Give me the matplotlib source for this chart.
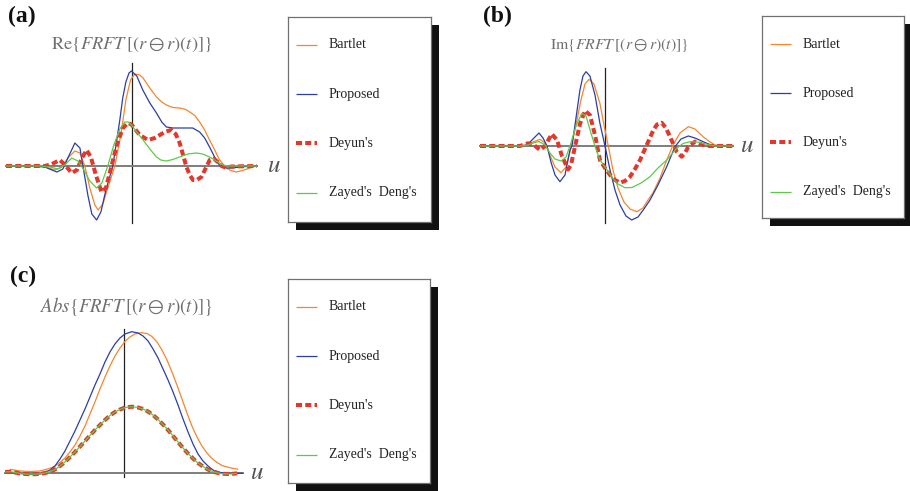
import matplotlib
matplotlib.use("Agg")
import matplotlib.pyplot as plt
from matplotlib.patches import Rectangle

plt.rcParams['font.family'] = ['Liberation Serif', 'DejaVu Serif']
plt.rcParams['mathtext.fontset'] = 'stix'

W, H = 910, 491

# ---- data (u, amplitude) ----
names = ["Bartlet", "Proposed", "Deyun's", "Zayed's  Deng's"]

# (a) real part
re_bartlet_u = [-10, -8.09, -6.9, -6.1, -5.54, -5.07, -4.51, -4.11, -3.72, -3.32, -2.92, -2.66, -2.28, -1.89,
                -1.33, -0.85, -0.45, -0.08, 0.26, 0.66, 0.92, 1.46, 1.99, 2.41, 2.78, 3.29, 3.84, 4.32, 4.64,
                5.04, 5.43, 5.83, 6.22, 6.63, 7.02, 7.56, 7.9, 8.35, 8.85, 9.41, 10]
re_bartlet = [0, 0, -0.01, -0.04, -0.01, 0.08, 0.15, 0.13, 0, -0.22, -0.39, -0.44, -0.38, -0.22,
              0, 0.31, 0.66, 0.86, 0.92, 0.91, 0.88, 0.78, 0.69, 0.64, 0.61, 0.585, 0.58, 0.565, 0.54,
              0.505, 0.44, 0.36, 0.26, 0.16, 0.06, -0.02, -0.045, -0.06, -0.045, -0.02, 0]
re_proposed_u = [-10, -8.89, -7.69, -6.9, -6.34, -5.94, -5.47, -5.07, -4.51, -4.11, -3.87, -3.48, -3.16, -2.78,
                 -2.44, -2.04, -1.49, -0.93, -0.7, -0.45, -0.2, 0, 0.42, 0.9, 1.46, 1.99, 2.41, 2.78, 3.29,
                 4.08, 4.88, 5.43, 5.83, 6.22, 6.54, 6.86, 7.18, 7.56, 8.06, 8.62, 9.17, 10]
re_proposed = [0, 0, 0, -0.01, -0.04, -0.06, -0.03, 0.08, 0.23, 0.18, 0, -0.29, -0.48, -0.54,
               -0.46, -0.24, 0, 0.46, 0.68, 0.84, 0.93, 0.95, 0.9, 0.76, 0.63, 0.53, 0.44, 0.39, 0.38,
               0.38, 0.38, 0.34, 0.28, 0.19, 0.11, 0.03, -0.01, -0.02, -0.02, -0.01, -0.005, 0]
re_deyun_u = [-10, -8.89, -7.69, -6.9, -6.34, -5.7, -5.23, -4.77, -4.35, -3.95, -3.58, -3.24, -2.84, -2.39,
              -2.04, -1.59, -1.17, -0.69, -0.29, 0, 0.34, 0.66, 1.32, 1.85, 2.25, 2.73, 3.18, 3.52, 3.84,
              4.38, 4.64, 4.9, 5.19, 5.57, 5.92, 6.23, 6.55, 6.87, 7.18, 7.5, 7.98, 10]
re_deyun = [0, 0, 0, 0, 0.02, 0.06, 0, -0.07, -0.04, 0.08, 0.16, 0.09, -0.09, -0.26,
            -0.22, 0, 0.21, 0.38, 0.43, 0.415, 0.36, 0.31, 0.26, 0.28, 0.31, 0.345, 0.36, 0.32, 0.23,
            -0.01, -0.09, -0.14, -0.14, -0.11, -0.02, 0.06, 0.075, 0.04, 0, -0.015, -0.005, 0]
re_zayed_u = [-10, -7.29, -6.5, -5.86, -5.31, -4.77, -4.27, -3.79, -3.32, -2.78, -2.36, -1.89, -1.41, -0.93,
              -0.53, -0.27, 0, 0.42, 0.92, 1.46, 1.99, 2.33, 2.78, 3.29, 3.84, 4.48, 5.17, 5.67, 6.22,
              6.63, 7.02, 7.42, 7.82, 10]
re_zayed = [0, 0, -0.01, -0.03, 0.01, 0.08, 0.05, -0.04, -0.15, -0.22, -0.17, 0, 0.21, 0.37,
            0.44, 0.44, 0.41, 0.34, 0.26, 0.17, 0.09, 0.06, 0.05, 0.065, 0.09, 0.12, 0.13, 0.12, 0.09,
            0.06, 0.03, 0.005, 0, 0]

# (b) imaginary part
im_bartlet_u = [-9.88, -6.72, -6.17, -5.69, -5.14, -4.74, -4.35, -3.95, -3.48, -3.08, -2.69, -2.29, -1.9,
                -1.58, -1.26, -0.87, -0.4, -0.08, 0.26, 0.63, 1.03, 1.5, 1.98, 2.51, 3.0, 3.4, 3.79, 4.35,
                4.88, 5.38, 5.93, 6.59, 7.11, 7.75, 8.3, 8.7, 10.12]
im_bartlet = [0, 0, 0.01, 0.04, 0.067, 0.03, -0.09, -0.21, -0.267, -0.21, -0.02, 0.21, 0.46,
              0.62, 0.667, 0.62, 0.427, 0.21, 0, -0.24, -0.42, -0.56, -0.63, -0.657, -0.62, -0.54, -0.47, -0.32,
              -0.14, 0.01, 0.13, 0.193, 0.17, 0.093, 0.04, 0.01, 0]
im_proposed_u = [-9.88, -8.3, -6.72, -6.17, -5.77, -5.22, -4.9, -4.58, -4.27, -3.95, -3.56, -3.16, -2.77,
                 -2.61, -2.37, -1.98, -1.74, -1.5, -1.19, -0.79, -0.4, 0, 0.4, 0.79, 1.19, 1.66, 2.11, 2.61,
                 3.08, 3.56, 4.19, 4.88, 5.53, 6.01, 6.59, 7.11, 7.77, 8.54, 10.12]
im_proposed = [0, 0, 0, 0.01, 0.06, 0.13, 0.08, 0, -0.16, -0.29, -0.357, -0.29, -0.04,
               0, 0.21, 0.56, 0.7, 0.743, 0.7, 0.51, 0.227, 0, -0.24, -0.44, -0.59, -0.7, -0.74, -0.71,
               -0.63, -0.54, -0.39, -0.207, -0.007, 0.07, 0.1, 0.08, 0.043, 0, 0]
im_deyun_u = [-9.88, -8.7, -7.51, -6.72, -6.09, -5.61, -5.14, -4.74, -4.21, -3.79, -3.4, -2.92, -2.69, -2.29,
              -1.98, -1.58, -1.19, -0.79, -0.4, 0, 0.4, 0.79, 1.19, 1.58, 1.98, 2.37, 2.77, 3.3, 3.83,
              4.11, 4.48, 4.82, 5.14, 5.67, 6.06, 6.32, 6.59, 7.11, 7.77, 8.3, 10.12]
im_deyun = [0, 0, 0, 0, 0.027, 0.01, -0.04, 0, 0.12, 0.06, -0.1, -0.235, -0.19, 0.04,
            0.22, 0.353, 0.31, 0.11, -0.14, -0.22, -0.29, -0.34, -0.367, -0.35, -0.307, -0.23, -0.14, 0.01, 0.16,
            0.215, 0.233, 0.18, 0.093, -0.057, -0.107, -0.07, -0.007, 0.043, 0.01, 0, 0]
im_zayed_u = [-9.88, -6.72, -6.09, -5.69, -5.22, -4.74, -4.35, -3.95, -3.48, -3.08, -2.69, -2.29, -1.84,
              -1.5, -1.11, -0.79, -0.4, 0, 0.55, 1.03, 1.58, 2.13, 2.85, 3.56, 4.19, 4.88, 5.67, 6.17,
              6.72, 7.27, 7.75, 8.3, 8.7, 10.12]
im_zayed = [0, 0, 0.01, 0.03, 0.045, 0.01, -0.07, -0.13, -0.15, -0.11, 0.03, 0.2, 0.327,
            0.3, 0.13, 0, -0.14, -0.21, -0.31, -0.38, -0.417, -0.415, -0.37, -0.307, -0.22, -0.14, -0.023, 0.025,
            0.043, 0.04, 0.027, 0.01, 0, 0]

# (c) magnitude
abs_bartlet_u = [-9.58, -8.74, -7.9, -7.06, -6.22, -5.8, -5.38, -4.96, -4.54, -4.12, -3.7, -3.28, -2.86,
                 -2.44, -2.02, -1.6, -1.18, -0.76, -0.34, 0.08, 0.5, 0.92, 1.43, 1.93, 2.35, 2.77, 3.19, 3.61,
                 4.03, 4.45, 4.87, 5.29, 5.71, 6.13, 6.55, 6.97, 7.39, 7.82, 8.24, 8.66, 9.08, 9.6]
abs_bartlet = [0.04, 0.023, 0.018, 0.023, 0.05, 0.073, 0.108, 0.153, 0.213, 0.283, 0.373, 0.473, 0.593,
               0.713, 0.843, 0.963, 1.073, 1.173, 1.253, 1.318, 1.363, 1.393, 1.406, 1.398, 1.368, 1.313,
               1.233, 1.133, 1.013, 0.883, 0.743, 0.603, 0.473, 0.363, 0.273, 0.203, 0.148, 0.108, 0.078,
               0.063, 0.051, 0.04]
abs_proposed_u = [-10, -9.58, -8.74, -7.9, -7.06, -6.64, -6.22, -5.8, -5.38, -4.96, -4.54, -4.12, -3.7, -3.28,
                  -2.86, -2.44, -2.02, -1.6, -1.18, -0.76, -0.34, 0.08, 0.65, 1.18, 1.6, 2.02, 2.44, 2.86,
                  3.28, 3.7, 4.12, 4.54, 4.96, 5.38, 5.8, 6.22, 6.64, 7.06, 7.48, 8.07, 8.74, 10]
abs_proposed = [0.003, 0.008, -0.002, -0.012, -0.007, 0.008, 0.033, 0.073, 0.143, 0.223, 0.323, 0.423,
                0.533, 0.643, 0.763, 0.883, 0.993, 1.113, 1.213, 1.293, 1.353, 1.393, 1.416, 1.403, 1.373,
                1.323, 1.243, 1.153, 1.043, 0.933, 0.813, 0.683, 0.543, 0.413, 0.293, 0.193, 0.123, 0.073,
                0.033, 0.008, 0, 0]
abs_deyun_u = [-10, -9.58, -9.16, -8.74, -8.32, -7.9, -7.48, -7.06, -6.64, -6.22, -5.8, -5.38, -4.96, -4.54,
               -4.12, -3.7, -3.28, -2.86, -2.44, -2.02, -1.6, -1.18, -0.76, -0.34, 0.08, 0.65, 1.18, 1.6,
               2.02, 2.44, 2.86, 3.28, 3.7, 4.12, 4.54, 4.96, 5.38, 5.8, 6.22, 6.64, 7.06, 7.48, 7.9, 8.32,
               8.74, 9.16, 9.5]
abs_deyun = [0.013, 0.016, 0.008, -0.002, -0.007, -0.009, -0.009, -0.005, 0.003, 0.016, 0.038, 0.073,
             0.113, 0.163, 0.213, 0.268, 0.323, 0.378, 0.433, 0.483, 0.533, 0.578, 0.613, 0.638, 0.658,
             0.666, 0.658, 0.643, 0.618, 0.583, 0.538, 0.488, 0.433, 0.373, 0.313, 0.253, 0.198, 0.148,
             0.103, 0.068, 0.038, 0.016, 0.003, -0.005, -0.007, -0.005, 0]
abs_zayed_u = list(abs_deyun_u)
abs_zayed = list(abs_deyun)

ORANGE = '#f5862c'
BLUE = '#2b3ea6'
RED = '#e3372b'
GREEN = '#5dc94b'
styles = [dict(color=ORANGE, lw=0.9),
          dict(color=BLUE, lw=0.9),
          dict(color=RED, lw=2.9, dashes=(1.5, 0.8)),
          dict(color=GREEN, lw=0.9)]

TITLE_C = '#6f6f6f'


def box(x0, y0, x1, y1):
    return [x0 / W, 1 - y1 / H, (x1 - x0) / W, (y1 - y0) / H]


fig = plt.figure(figsize=(W / 100, H / 100), dpi=100)


def panel(rect, xlim, ylim, vb, curves, title, tpos, tsize, label, lpos, uoff):
    ax = fig.add_axes(box(*rect))
    for (u, v), st in zip(curves, styles):
        ax.plot(u, v, solid_capstyle='butt', solid_joinstyle='round', **st)
    ax.set_xlim(*xlim)
    ax.set_ylim(*ylim)
    ax.patch.set_visible(False)
    for s in ['top', 'right']:
        ax.spines[s].set_visible(False)
    ax.spines['left'].set_position(('data', 0))
    ax.spines['bottom'].set_position(('data', 0))
    ax.spines['left'].set_bounds(*vb)
    ax.spines['left'].set_color('#222222')
    ax.spines['left'].set_linewidth(0.9)
    ax.spines['left'].set_zorder(0.5)
    ax.spines['bottom'].set_color('#7d7d7d')
    ax.spines['bottom'].set_linewidth(1.4)
    ax.spines['bottom'].set_zorder(0.5)
    ax.set_xticks([])
    ax.set_yticks([])
    ax.annotate('$u$', xy=(1, 0), xycoords=('axes fraction', 'data'), xytext=(uoff, 0),
                textcoords='offset points', ha='left', va='center', fontsize=18, color='#555555')
    fig.text(tpos[0] / W, 1 - tpos[1] / H, title, ha='center', va='center', fontsize=tsize, color=TITLE_C)
    fig.text(lpos[0] / W, 1 - lpos[1] / H, label, ha='left', va='top', fontsize=17,
             fontweight='bold', color='#111111')
    return ax


def legend(x0, y0, w, h):
    fig.add_artist(Rectangle(((x0 + 8) / W, 1 - (y0 + h + 8) / H), w / W, h / H,
                             transform=fig.transFigure, facecolor='#111111', edgecolor='none', zorder=2))
    lax = fig.add_axes(box(x0, y0, x0 + w, y0 + h))
    lax.set_zorder(3)
    lax.set_xlim(0, w)
    lax.set_ylim(h, 0)
    lax.set_xticks([])
    lax.set_yticks([])
    for s in lax.spines.values():
        s.set_color('#707070')
        s.set_linewidth(0.9)
    for i, (name, st) in enumerate(zip(names, styles)):
        y = 28 + 49.2 * i
        lax.plot([8, 29], [y, y], solid_capstyle='butt', **st)
        lax.text(41, y, name, ha='left', va='center', fontsize=10, color='#222222')


panel((6, 60, 257, 225), (-10, 10), (-0.59, 1.06), (-0.57, 1.03),
      [(re_bartlet_u, re_bartlet), (re_proposed_u, re_proposed), (re_deyun_u, re_deyun), (re_zayed_u, re_zayed)],
      r'$\mathrm{Re}\{\mathit{FRFT}\,[(r\ominus r)(t)]\}$', (131.5, 45), 13.2, '(a)', (8, 6), 7)
legend(288, 17, 143, 205)

panel((480, 60, 733, 225), (-9.88, 10.12), (-0.79, 0.86), (-0.77, 0.78),
      [(im_bartlet_u, im_bartlet), (im_proposed_u, im_proposed), (im_deyun_u, im_deyun), (im_zayed_u, im_zayed)],
      r'$\mathrm{Im}\{\mathit{FRFT}\,[(r\ominus r)(t)]\}$', (619, 45), 11.3, '(b)', (483, 6), 5)
legend(762, 16, 142, 202)

panel((5, 320, 243, 480), (-10, 10), (-0.067, 1.533), (-0.034, 1.443),
      [(abs_bartlet_u, abs_bartlet), (abs_proposed_u, abs_proposed), (abs_deyun_u, abs_deyun), (abs_zayed_u, abs_zayed)],
      r'$\mathit{Abs}\{\mathit{FRFT}\,[(r\ominus r)(t)]\}$', (126, 306), 13.5, '(c)', (10, 266), 5)
legend(288, 279, 142, 204)

fig.savefig('out.png', dpi=100)
